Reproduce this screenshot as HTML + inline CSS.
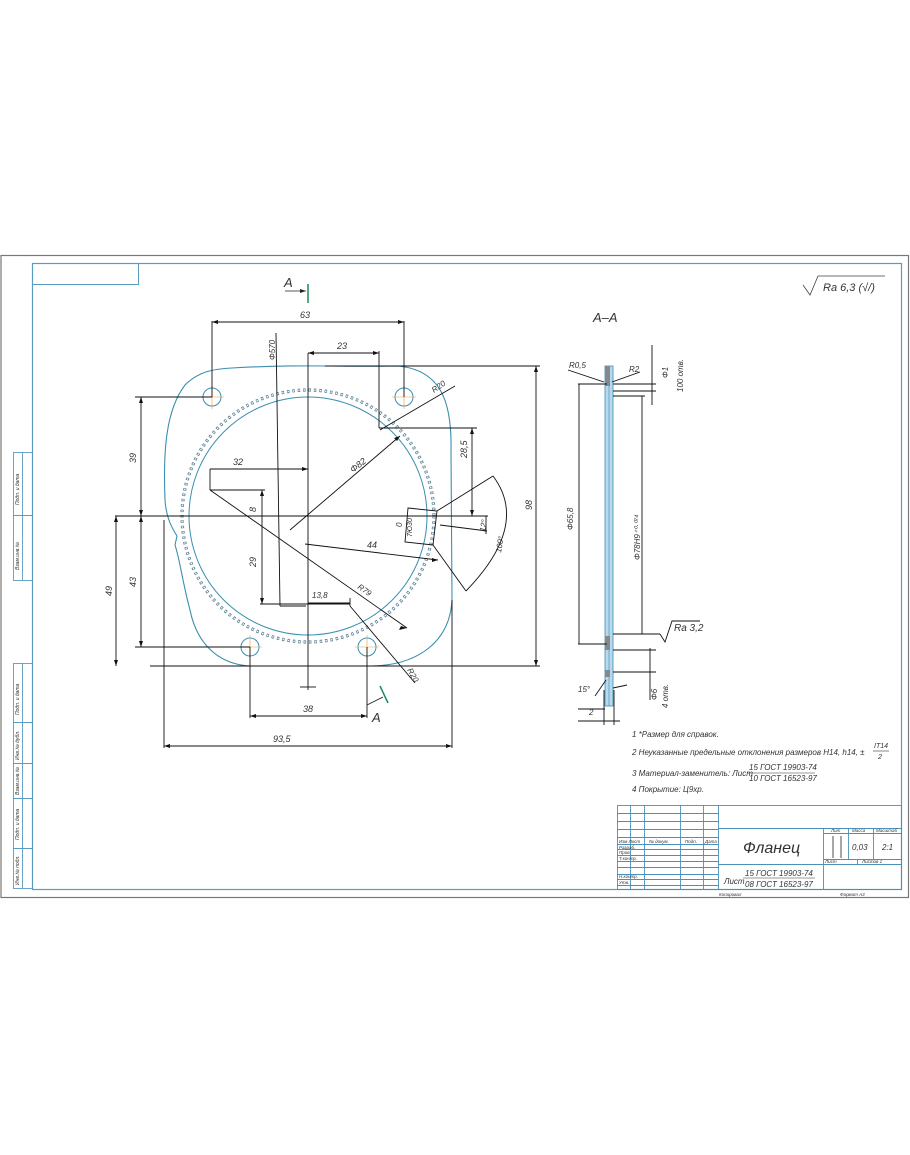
<!DOCTYPE html>
<html><head><meta charset="utf-8"><style>
html,body{margin:0;padding:0;background:#fff;}
svg{display:block;}
text{font-family:"Liberation Sans",sans-serif;font-style:italic;fill:#333;}
</style></head><body>
<svg width="910" height="1155" viewBox="0 0 910 1155" xmlns="http://www.w3.org/2000/svg">
<!-- sheet -->
<rect x="1" y="255.5" width="907.5" height="642" fill="#fff" stroke="#777" stroke-width="1.2"/>
<rect x="32.5" y="263.5" width="869" height="626" fill="none" stroke="#5b9bc0" stroke-width="1.2"/>
<rect x="32.5" y="263.5" width="106" height="21" fill="none" stroke="#5b9bc0" stroke-width="1"/>
<!-- left stamp -->
<g fill="none" stroke="#5b9bc0" stroke-width="0.9">
<rect x="13.5" y="452.5" width="19" height="128"/><line x1="22.5" y1="452" x2="22.5" y2="580"/><line x1="13" y1="515.5" x2="32" y2="515.5"/>
<rect x="13.5" y="663.5" width="19" height="225"/><line x1="22.5" y1="663" x2="22.5" y2="888"/>
<line x1="13" y1="722.5" x2="32" y2="722.5"/><line x1="13" y1="763.5" x2="32" y2="763.5"/><line x1="13" y1="798.5" x2="32" y2="798.5"/><line x1="13" y1="848.5" x2="32" y2="848.5"/>
</g>
<g font-size="5">
<text transform="translate(19,505) rotate(-90)">Подп. и дата</text>
<text transform="translate(19,570) rotate(-90)">Взам.инв.№</text>
<text transform="translate(19,715) rotate(-90)">Подп. и дата</text>
<text transform="translate(19,760) rotate(-90)">Инв.№ дубл.</text>
<text transform="translate(19,795) rotate(-90)">Взам.инв.№</text>
<text transform="translate(19,840) rotate(-90)">Подп. и дата</text>
<text transform="translate(19,885) rotate(-90)">Инв.№ подл.</text>
</g>

<!-- roughness -->
<path d="M803,285 L810,295 L818,276 L885,276" fill="none" stroke="#444" stroke-width="0.8"/>
<text x="823" y="291" font-size="11">Ra 6,3 (√/)</text>

<!-- Section mark A top -->
<text x="284" y="287" font-size="13" font-style="normal">A</text>
<line x1="285" y1="291" x2="306" y2="291" stroke="#222" stroke-width="0.8"/>
<path d="M306,291 l-6,-2 v4z" fill="#222"/>
<line x1="308" y1="284" x2="308" y2="303" stroke="#1a8a5a" stroke-width="1.5"/>

<!-- flange outline -->
<path d="M232,368 C300,364 340,367 398,366 C440,370 452,400 451,450 L452,600 C450,640 420,665 372,666 L250,666 C215,664 196,640 190,610 C182,580 180,560 175,545 L177,536 C170,525 166,515 165,500 C163,450 166,410 185,385 C198,372 212,369 232,368 Z" fill="none" stroke="#3a8fb0" stroke-width="1.1"/>
<circle cx="308" cy="516" r="119" fill="none" stroke="#3a8fb0" stroke-width="1"/>
<circle cx="308" cy="516" r="126" fill="none" stroke="#5f8598" stroke-width="3.2" stroke-dasharray="2.5 2.9"/>
<circle cx="308" cy="516" r="126" fill="none" stroke="#fff" stroke-width="1.4" stroke-dasharray="1.3 4.1" stroke-dashoffset="-0.6"/>
<g fill="none" stroke="#3a8fb0" stroke-width="1">
<circle cx="212" cy="397" r="9"/><circle cx="404" cy="397" r="9"/><circle cx="250" cy="647" r="9"/><circle cx="367" cy="647" r="9"/>
</g>
<g stroke="#e8a040" stroke-width="0.6">
<line x1="200" y1="397" x2="224" y2="397"/><line x1="212" y1="385" x2="212" y2="409"/>
<line x1="392" y1="397" x2="416" y2="397"/><line x1="404" y1="385" x2="404" y2="409"/>
<line x1="238" y1="647" x2="262" y2="647"/><line x1="250" y1="635" x2="250" y2="659"/>
<line x1="355" y1="647" x2="379" y2="647"/><line x1="367" y1="635" x2="367" y2="659"/>
<line x1="308" y1="535" x2="308" y2="605"/>
</g>

<!-- dimension lines -->
<g stroke="#111" stroke-width="0.9" fill="none">
<line x1="212" y1="321" x2="212" y2="397"/><line x1="404" y1="321" x2="404" y2="397"/><line x1="212" y1="322" x2="404" y2="322"/>
<line x1="308" y1="353" x2="308" y2="690"/><line x1="379" y1="351" x2="379" y2="428"/><line x1="308" y1="353" x2="379" y2="353"/>
<line x1="325" y1="366" x2="540" y2="366"/><line x1="536" y1="366" x2="536" y2="666"/><line x1="150" y1="666" x2="540" y2="666"/>
<line x1="135" y1="397" x2="212" y2="397"/><line x1="141" y1="397" x2="141" y2="647"/><line x1="135" y1="647" x2="250" y2="647"/>
<line x1="115" y1="516" x2="488" y2="516"/><line x1="116" y1="516" x2="116" y2="666"/>
<line x1="164" y1="520" x2="164" y2="748"/><line x1="452" y1="600" x2="452" y2="748"/><line x1="164" y1="746" x2="452" y2="746"/>
<line x1="250" y1="647" x2="250" y2="718"/><line x1="367" y1="647" x2="367" y2="718"/><line x1="250" y1="716" x2="367" y2="716"/>
<line x1="379" y1="428" x2="477" y2="428"/><line x1="472" y1="428" x2="472" y2="516"/>
<line x1="210" y1="469" x2="308" y2="469"/><line x1="210" y1="469" x2="210" y2="490"/>
<line x1="210" y1="490" x2="265" y2="490"/><line x1="262" y1="490" x2="262" y2="604"/><line x1="260" y1="604" x2="350" y2="604"/>
<line x1="308" y1="603" x2="350" y2="603"/><line x1="350" y1="598" x2="350" y2="606"/>
<line x1="350" y1="606" x2="415" y2="683"/>
<line x1="210" y1="490" x2="407" y2="628"/>
<line x1="290" y1="530" x2="400" y2="436"/>
<line x1="276" y1="333" x2="280" y2="606"/><line x1="280" y1="606" x2="306" y2="606"/>
<line x1="380" y1="430" x2="455" y2="386"/>
<line x1="305" y1="544" x2="438" y2="560"/>
<path d="M408,508 L437,511 L433,545 L405,542 Z"/>
<line x1="437" y1="511" x2="493" y2="476"/><line x1="433" y1="545" x2="466" y2="591"/>
<path d="M493,476 Q530,525 466,591"/>
<line x1="440" y1="525" x2="487" y2="531"/><line x1="486" y1="516" x2="486" y2="534"/>
<line x1="300" y1="687" x2="316" y2="687"/>
</g>
<g fill="#111">
<path d="M212,322 l6,-2 v4z"/><path d="M404,322 l-6,-2 v4z"/>
<path d="M308,353 l6,-2 v4z"/><path d="M379,353 l-6,-2 v4z"/>
<path d="M536,366 l-2,6 h4z"/><path d="M536,666 l-2,-6 h4z"/>
<path d="M141,397 l-2,6 h4z"/><path d="M141,647 l-2,-6 h4z"/><path d="M141,516 l-2,-6 h4z"/><path d="M141,516 l-2,6 h4z"/>
<path d="M116,516 l-2,6 h4z"/><path d="M116,666 l-2,-6 h4z"/>
<path d="M164,746 l6,-2 v4z"/><path d="M452,746 l-6,-2 v4z"/>
<path d="M250,716 l6,-2 v4z"/><path d="M367,716 l-6,-2 v4z"/>
<path d="M472,428 l-2,6 h4z"/><path d="M472,516 l-2,-6 h4z"/>
<path d="M308,469 l-6,-2 v4z"/><path d="M262,490 l-2,6 h4z"/><path d="M262,604 l-2,-6 h4z"/>
<path d="M407,628 l-6,-2 l-2,4z"/><path d="M400,436 l-6,2 l3,3z"/><path d="M438,560 l-6,-2 v4z"/>
</g>
<g font-size="9">
<text x="300" y="318">63</text>
<text x="337" y="349">23</text>
<text x="233" y="465">32</text>
<text x="312" y="598" font-size="8">13,8</text>
<text x="367" y="548">44</text>
<text x="303" y="712">38</text>
<text x="273" y="742">93,5</text>
<text transform="translate(136,463) rotate(-90)">39</text>
<text transform="translate(136,587) rotate(-90)">43</text>
<text transform="translate(112,596) rotate(-90)">49</text>
<text transform="translate(256,512) rotate(-90)">8</text>
<text transform="translate(256,567) rotate(-90)">29</text>
<text transform="translate(467,458) rotate(-90)">28,5</text>
<text transform="translate(532,510) rotate(-90)">98</text>
<text transform="translate(275,360) rotate(-90)" font-size="8">Φ570</text>
<text transform="translate(353,473) rotate(-38)">Φ82</text>
<text transform="translate(357,588) rotate(35)" font-size="8">R79</text>
<text transform="translate(434,393) rotate(-35)" font-size="8">R20</text>
<text transform="translate(407,670) rotate(60)" font-size="8">R20</text>
<text transform="translate(402,527) rotate(-90)" font-size="8">0</text>
<text transform="translate(412,537) rotate(-90)" font-size="7">7Ю30</text>
<text transform="translate(485,532) rotate(-80)" font-size="8">12°</text>
<text transform="translate(501,553) rotate(-80)" font-size="8">100°</text>
</g>
<!-- Section mark A bottom -->
<line x1="367" y1="705" x2="383" y2="697" stroke="#222" stroke-width="0.8"/>
<line x1="380" y1="686" x2="388" y2="703" stroke="#1a8a5a" stroke-width="1.5"/>
<text x="372" y="722" font-size="13" font-style="normal">A</text>

<!-- Section A-A -->
<text x="593" y="322" font-size="13" font-style="normal">A–A</text>
<rect x="605" y="366" width="8" height="340" fill="#b8d8ee" stroke="#3a8fb0" stroke-width="0.8"/>
<line x1="609" y1="366" x2="609" y2="706" stroke="#3a8fb0" stroke-width="0.6"/>
<g fill="#888"><rect x="605" y="366" width="5" height="20"/><rect x="605" y="636" width="5" height="14"/><rect x="605" y="670" width="5" height="7"/></g>
<g stroke="#111" stroke-width="0.9" fill="none">
<line x1="578" y1="384" x2="607" y2="384"/><line x1="578" y1="644" x2="607" y2="644"/><line x1="579" y1="384" x2="579" y2="644"/>
<line x1="613" y1="396" x2="645" y2="396"/><line x1="613" y1="634" x2="660" y2="634"/><line x1="642" y1="396" x2="642" y2="634"/>
<path d="M660,634 L665,642 L672,621 L700,621"/>
<line x1="613" y1="384" x2="656" y2="384"/><line x1="613" y1="391" x2="656" y2="391"/><line x1="652" y1="345" x2="652" y2="405"/>
<line x1="613" y1="650" x2="656" y2="650"/><line x1="613" y1="672" x2="656" y2="672"/><line x1="650" y1="648" x2="650" y2="700"/>
<line x1="568" y1="370" x2="604" y2="382"/><line x1="640" y1="372" x2="612" y2="382"/>
<line x1="578" y1="709" x2="605" y2="709"/><line x1="578" y1="721" x2="620" y2="721"/>
<line x1="595" y1="696" x2="606" y2="680"/><line x1="613" y1="688" x2="627" y2="685"/>
<line x1="604" y1="690" x2="604" y2="725"/><line x1="614" y1="690" x2="614" y2="725"/>
</g>
<g font-size="8">
<text x="569" y="368">R0,5</text><text x="629" y="372">R2</text>
<text transform="translate(573,530) rotate(-90)">Φ65,8</text>
<text transform="translate(640,560) rotate(-90)">Φ78H9⁺⁰·⁰⁷⁴</text>
<text transform="translate(668,378) rotate(-90)">Φ1</text>
<text transform="translate(683,392) rotate(-90)">100 отв.</text>
<text transform="translate(657,700) rotate(-90)">Φ6</text>
<text transform="translate(668,708) rotate(-90)">4 отв.</text>
<text x="578" y="692">15°</text><text x="589" y="715">2</text>
</g>
<text x="674" y="631" font-size="10">Ra 3,2</text>

<!-- notes -->
<g font-size="8">
<text x="632" y="737">1 *Размер для справок.</text>
<text x="632" y="755">2 Неуказанные предельные отклонения размеров H14, h14, ±</text>
<text x="874" y="748" font-size="7">IT14</text><line x1="873" y1="751" x2="889" y2="751" stroke="#333" stroke-width="0.6"/><text x="878" y="759" font-size="7">2</text>
<text x="632" y="776">3 Материал-заменитель: Лист</text>
<text x="749" y="770">15 ГОСТ 19903-74</text><line x1="747" y1="773" x2="815" y2="773" stroke="#333" stroke-width="0.6"/><text x="749" y="781">10 ГОСТ 16523-97</text>
<text x="632" y="792">4 Покрытие: Ц9хр.</text>
</g>

<!-- title block -->
<g fill="none" stroke="#4a90b8" stroke-width="0.9">
<rect x="617.5" y="805.5" width="284" height="84"/>
<line x1="718.5" y1="805" x2="718.5" y2="889"/>
<line x1="630.5" y1="805" x2="630.5" y2="889"/><line x1="644.5" y1="805" x2="644.5" y2="889"/><line x1="680.5" y1="805" x2="680.5" y2="889"/><line x1="703.5" y1="805" x2="703.5" y2="889"/>
<line x1="617" y1="813.5" x2="718" y2="813.5"/><line x1="617" y1="821.5" x2="718" y2="821.5"/><line x1="617" y1="829.5" x2="718" y2="829.5"/><line x1="617" y1="837.5" x2="718" y2="837.5"/><line x1="617" y1="844.5" x2="718" y2="844.5"/><line x1="617" y1="849.5" x2="718" y2="849.5"/><line x1="617" y1="855.5" x2="718" y2="855.5"/><line x1="617" y1="861.5" x2="718" y2="861.5"/><line x1="617" y1="867.5" x2="718" y2="867.5"/><line x1="617" y1="874.5" x2="718" y2="874.5"/><line x1="617" y1="879.5" x2="718" y2="879.5"/><line x1="617" y1="885.5" x2="718" y2="885.5"/>
<line x1="718" y1="828.5" x2="902" y2="828.5"/><line x1="718" y1="864.5" x2="902" y2="864.5"/>
<line x1="823.5" y1="828" x2="823.5" y2="889"/><line x1="848.5" y1="828" x2="848.5" y2="859"/><line x1="873.5" y1="828" x2="873.5" y2="859"/>
<line x1="823" y1="833.5" x2="902" y2="833.5"/><line x1="823" y1="859.5" x2="902" y2="859.5"/><line x1="857.5" y1="859" x2="857.5" y2="865"/>
</g>
<g stroke="#222" stroke-width="0.8"><line x1="833" y1="836" x2="833" y2="858"/><line x1="841" y1="836" x2="841" y2="858"/></g>
<g font-size="4.5">
<text x="619" y="843">Изм Лист</text><text x="649" y="843">№ докум.</text><text x="685" y="843">Подп.</text><text x="705" y="843">Дата</text>
<text x="619" y="849">Разраб.</text><text x="619" y="854">Пров.</text><text x="619" y="860">Т.контр.</text><text x="619" y="878">Н.контр.</text><text x="619" y="884">Утв.</text>
<text x="831" y="832">Лит</text><text x="852" y="832">Масса</text><text x="876" y="832">Масштаб</text>
<text x="825" y="863">Лист</text><text x="862" y="863">Листов  1</text>
<text x="719" y="896">Копировал</text><text x="840" y="896">Формат  А3</text>
</g>
<text x="743" y="853" font-size="16">Фланец</text>
<text x="852" y="850" font-size="8">0,03</text><text x="882" y="850" font-size="8">2:1</text>
<g font-size="8"><text x="724" y="884">Лист</text><text x="745" y="876">15 ГОСТ 19903-74</text><line x1="743" y1="878" x2="815" y2="878" stroke="#333" stroke-width="0.6"/><text x="745" y="887">08 ГОСТ 16523-97</text></g>
</svg>
</body></html>
